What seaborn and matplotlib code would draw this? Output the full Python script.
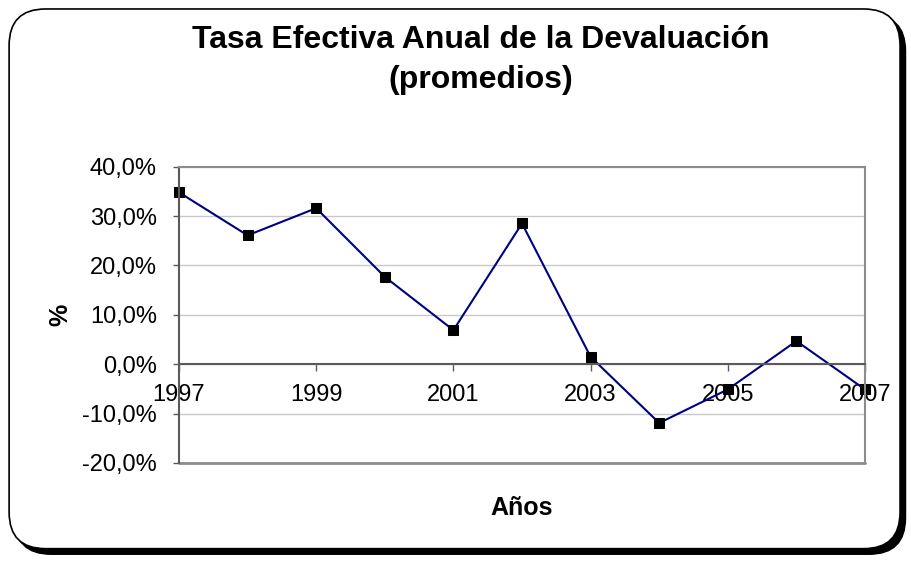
import numpy as np
import pandas as pd
import matplotlib
matplotlib.use("Agg")
import matplotlib.pyplot as plt
import seaborn as sns
from matplotlib.patches import FancyBboxPatch
from matplotlib.ticker import FuncFormatter

# -------------------------------
# Data
# -------------------------------

years = [1997, 1998, 1999, 2000, 2001, 2002, 2003, 2004, 2005, 2006, 2007]
devaluacion = [34.8, 26.1, 31.6, 17.7, 6.9, 28.5, 1.5, -11.9, -5.1, 4.7, -5.1]
year_ticks = [1997, 1999, 2001, 2003, 2005, 2007]

df = pd.DataFrame({"Año": years, "Devaluacion": devaluacion})

# -------------------------------
# Style
# -------------------------------

sns.set_style("white")
plt.rcParams['font.family'] = ['Liberation Sans', 'DejaVu Sans']
plt.rcParams['text.color'] = 'black'
plt.rcParams['xtick.color'] = 'black'
plt.rcParams['ytick.color'] = 'black'

fig = plt.figure(figsize=(9.11, 5.61), dpi=100)

# rounded frame with shadow
shadow = FancyBboxPatch((0.016, 0.012), 0.978, 0.962,
                        boxstyle="round,pad=0,rounding_size=0.04",
                        transform=fig.transFigure, facecolor="black",
                        edgecolor="black", zorder=0, mutation_aspect=911/561)
frame = FancyBboxPatch((0.010, 0.022), 0.978, 0.962,
                       boxstyle="round,pad=0,rounding_size=0.04",
                       transform=fig.transFigure, facecolor="white",
                       edgecolor="black", linewidth=1.2, zorder=1,
                       mutation_aspect=911/561)
fig.patches.extend([shadow, frame])

ax = fig.add_axes([179/911, 1 - 463/561, (865 - 179)/911, (463 - 166.7)/561])
ax.set_zorder(2)
ax.patch.set_alpha(0)

sns.lineplot(data=df, x="Año", y="Devaluacion", ax=ax, color="#000080",
             linewidth=1.5, marker="s", markersize=7,
             markerfacecolor="black", markeredgecolor="black", clip_on=False)

ax.set_xlim(1997, 2007)
ax.set_ylim(-20, 40)
ax.set_yticks(np.arange(-20, 41, 10))
ax.set_xticks(year_ticks)
ax.yaxis.set_major_formatter(FuncFormatter(lambda v, p: f"{v:.1f}%".replace(".", ",")))

ax.grid(axis="y", color="#c8c8c8", linewidth=1)
ax.set_axisbelow(True)

# x axis crossing at 0
ax.spines['bottom'].set_position(('data', 0))
for s in ['bottom', 'left']:
    ax.spines[s].set_color("#5a5a5a")
    ax.spines[s].set_linewidth(1.5)
for s in ['top', 'right']:
    ax.spines[s].set_color("#8c8c8c")
    ax.spines[s].set_linewidth(1.5)
ax.axhline(-20, color="#8c8c8c", linewidth=2, clip_on=False, zorder=1)

ax.tick_params(axis="x", direction="out", length=5, width=1, color="#5a5a5a",
               labelsize=17, pad=9, bottom=True)
ax.tick_params(axis="y", direction="out", length=4, width=1, color="#5a5a5a",
               labelsize=17, pad=12, left=True)

ax.set_xlabel("")
ax.set_ylabel("")

fig.text(522/911, 1 - 508/561, "Años", ha="center", va="center",
         fontsize=18, fontweight="bold")
fig.text(60/911, 1 - 315/561, "%", ha="center", va="center",
         fontsize=18, fontweight="bold", rotation=90)
fig.text(481/911, 1 - 60/561, "Tasa Efectiva Anual de la Devaluación\n(promedios)",
         ha="center", va="center", fontsize=23, fontweight="bold",
         linespacing=1.4)

plt.savefig("out.png", dpi=100)
plt.close()
